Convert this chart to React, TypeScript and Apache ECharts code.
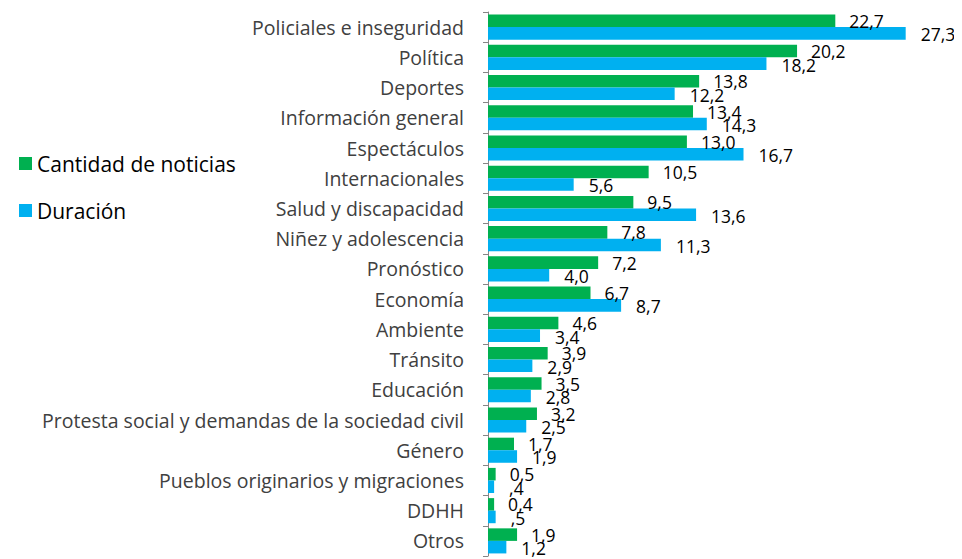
import React, { useEffect, useRef } from "react";
import * as echarts from "echarts";

const categories = [
  "Policiales e inseguridad",
  "Política",
  "Deportes",
  "Información general",
  "Espectáculos",
  "Internacionales",
  "Salud y discapacidad",
  "Niñez y adolescencia",
  "Pronóstico",
  "Economía",
  "Ambiente",
  "Tránsito",
  "Educación",
  "Protesta social y demandas de la sociedad civil",
  "Género",
  "Pueblos originarios y migraciones",
  "DDHH",
  "Otros",
];

const cantidad = [22.7, 20.2, 13.8, 13.4, 13.0, 10.5, 9.5, 7.8, 7.2, 6.7, 4.6, 3.9, 3.5, 3.2, 1.7, 0.5, 0.4, 1.9];
const duracion = [27.3, 18.2, 12.2, 14.3, 16.7, 5.6, 13.6, 11.3, 4.0, 8.7, 3.4, 2.9, 2.8, 2.5, 1.9, 0.4, 0.5, 1.2];

const FONT = "Open Sans";

export default function App() {
  const ref = useRef<HTMLDivElement>(null);
  useEffect(() => {
    const chart = echarts.init(ref.current!, undefined, { renderer: "svg" });
    const fmtGreen = (p: any) => p.value.toFixed(1).replace(".", ",");
    const fmtBlue = (p: any) => {
      const s = p.value.toFixed(1).replace(".", ",");
      return p.value < 1 ? s.replace(/^0/, "") : s;
    };
    chart.setOption({
      animation: false,
      legend: {
        orient: "vertical",
        left: 6,
        top: 140,
        itemWidth: 13,
        itemHeight: 13,
        itemGap: 26,
        icon: "rect",
        textStyle: { fontFamily: FONT, fontSize: 21, color: "#000" },
        data: ["Cantidad de noticias", "Duración"],
      },
      grid: { left: 480, top: 4, height: 544, width: 459 },
      xAxis: { type: "value", min: 0, max: 30, show: false },
      yAxis: {
        type: "category",
        inverse: true,
        data: categories,
        axisLine: { show: true, lineStyle: { color: "#868686", width: 1 } },
        axisTick: { show: true, length: 5, lineStyle: { color: "#868686" } },
        axisLabel: { fontFamily: FONT, fontSize: 19.5, color: "#404040", margin: 24 },
      },
      series: [
        {
          name: "Cantidad de noticias",
          type: "bar",
          data: cantidad,
          barGap: "0%",
          barCategoryGap: "17%",
          itemStyle: { color: "#00B050" },
          label: {
            show: true,
            position: "right",
            distance: 14,
            fontFamily: FONT,
            fontSize: 17.5,
            color: "#000",
            formatter: fmtGreen,
            offset: [0, 0],
          },
        },
        {
          name: "Duración",
          type: "bar",
          data: duracion,
          itemStyle: { color: "#00B0F0" },
          label: {
            show: true,
            position: "right",
            distance: 15,
            fontFamily: FONT,
            fontSize: 17.5,
            color: "#000",
            formatter: fmtBlue,
            offset: [0, 1],
          },
        },
      ],
    });
    return () => chart.dispose();
  }, []);
  return <div ref={ref} style={{ width: 954, height: 551 }} />;
}
